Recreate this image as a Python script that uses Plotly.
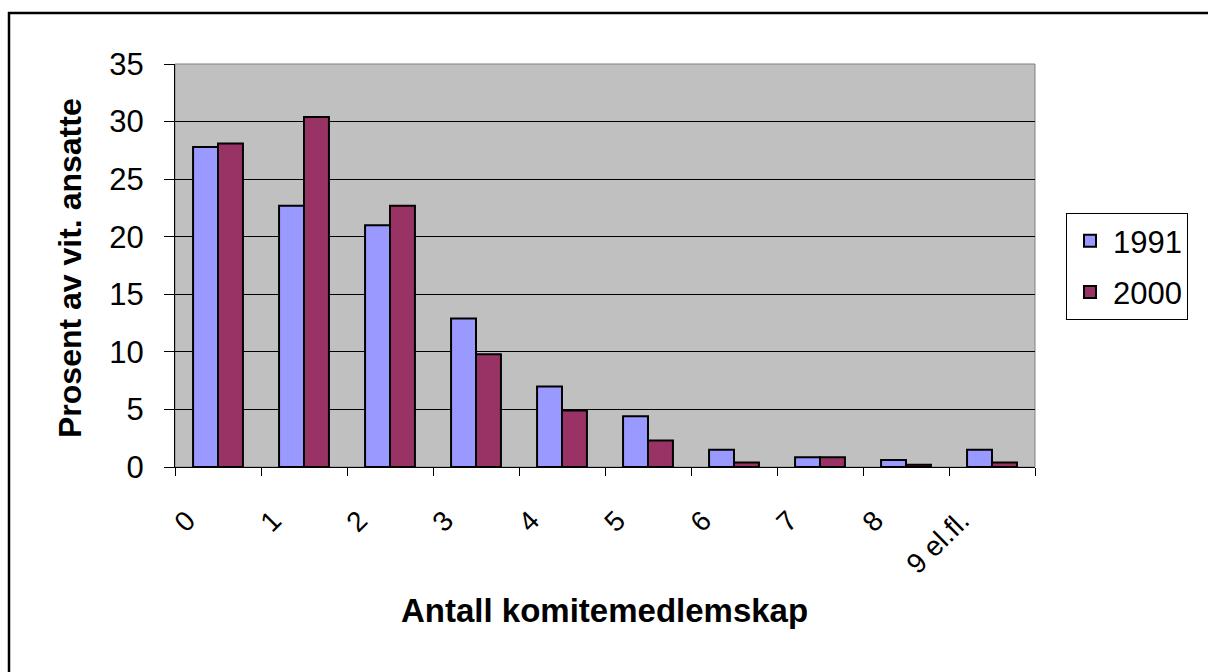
import plotly.graph_objects as go

categories = ["0", "1", "2", "3", "4", "5", "6", "7", "8", "9 el.fl."]
values_1991 = [27.8, 22.7, 21.0, 12.9, 7.0, 4.4, 1.5, 0.85, 0.6, 1.5]
values_2000 = [28.1, 30.4, 22.7, 9.8, 4.9, 2.3, 0.4, 0.85, 0.2, 0.4]
y_ticks = [0, 5, 10, 15, 20, 25, 30, 35]

W, H = 1208, 672
L, R, T, B = 175, 1035, 64, 467

FONT = "Liberation Sans, Arial, sans-serif"

fig = go.Figure()
fig.add_trace(go.Bar(
    x=categories, y=values_1991, name="1991", legendgroup="a",
    marker=dict(color="#9999FF", line=dict(color="black", width=2)),
))
fig.add_trace(go.Bar(
    x=categories, y=values_2000, name="2000", legendgroup="b",
    marker=dict(color="#993366", line=dict(color="black", width=2)),
))

def px_x(p):
    return (p - L) / (R - L)

def px_y(p):
    return (B - p) / (B - T)

fig.update_layout(
    width=W, height=H,
    margin=dict(l=L, r=W - R, t=T, b=H - B, pad=0),
    paper_bgcolor="white",
    plot_bgcolor="#C0C0C0",
    barmode="group",
    bargap=0.42,
    bargroupgap=0,
    font=dict(family=FONT, color="black", size=28),
    showlegend=True,
    legend=dict(
        x=px_x(1066), y=px_y(213), xanchor="left", yanchor="top",
        bordercolor="black", borderwidth=1, bgcolor="white",
        font=dict(family=FONT, size=31, color="black"),
        tracegroupgap=8,
        itemwidth=36,
    ),
    xaxis=dict(
        type="category",
        tickangle=-45,
        ticks="outside", ticklen=8, tickwidth=1, tickcolor="black",
        tickson="boundaries",
        showline=True, linecolor="black", linewidth=1,
        showgrid=False,
        tickfont=dict(family=FONT, size=28, color="black"),
        ticklabelstandoff=25,
        ticklabelshift=-31,
        automargin=False,
    ),
    yaxis=dict(
        range=[0, 35],
        tickvals=y_ticks,
        ticks="outside", ticklen=10, tickwidth=1, tickcolor="black",
        showline=True, linecolor="black", linewidth=1,
        showgrid=True, gridcolor="black", gridwidth=1,
        zeroline=False,
        tickfont=dict(family=FONT, size=31, color="black"),
        ticklabelstandoff=14,
        automargin=False,
    ),
    annotations=[
        dict(text="<b>Antall komitemedlemskap</b>", xref="paper", yref="paper",
             x=px_x(604), y=px_y(610), xanchor="center", yanchor="middle",
             showarrow=False, font=dict(family=FONT, size=33, color="black")),
        dict(text="<b>Prosent av vit. ansatte</b>", xref="paper", yref="paper",
             x=px_x(70), y=px_y(268), xanchor="center", yanchor="middle",
             textangle=-90, showarrow=False,
             font=dict(family=FONT, size=32, color="black")),
    ],
)

# plot-area border (gray, as in the original)
fig.add_shape(type="rect", xref="paper", yref="paper", x0=0, x1=1, y0=0, y1=1,
              line=dict(color="#808080", width=1), layer="below")
# outer chart frame: only top and left edges are visible in the original
fig.add_shape(type="line", xref="paper", yref="paper",
              x0=px_x(8), x1=px_x(1300), y0=px_y(13), y1=px_y(13),
              line=dict(color="black", width=2.5), layer="above")
fig.add_shape(type="line", xref="paper", yref="paper",
              x0=px_x(9), x1=px_x(9), y0=px_y(12), y1=px_y(760),
              line=dict(color="black", width=2.5), layer="above")

fig.write_html("out.html",
               config={"displayModeBar": False},
               post_script="document.body.style.margin='0';document.body.style.overflow='hidden';")
